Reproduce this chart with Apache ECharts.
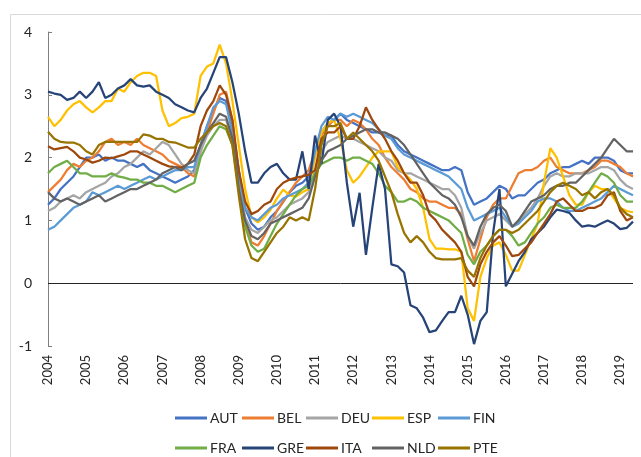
<!DOCTYPE html>
<html>
<head>
<meta charset="utf-8">
<script src="https://cdn.jsdelivr.net/npm/echarts@6/dist/echarts.min.js"></script>
<style>
  html, body { margin: 0; padding: 0; background: #fff; }
  #chart { width: 641px; height: 457px; }
</style>
</head>
<body>
<div id="chart"></div>
<script>
// tick labels (one per January), data is every second month
const years = ['2004', '2005', '2006', '2007', '2008', '2009', '2010', '2011',
  '2012', '2013', '2014', '2015', '2016', '2017', '2018', '2019']
const months = ['01', '03', '05', '07', '09', '11']

const AUT = [1.25, 1.35, 1.5, 1.6, 1.7, 1.85, 2.0, 2.0, 2.05, 1.95, 2.0, 1.95,
  1.95, 1.9, 1.85, 1.9, 1.8, 1.75, 1.7, 1.65, 1.6, 1.65, 1.7, 1.8,
  2.2, 2.5, 2.75, 2.95, 2.9, 2.5, 1.8, 1.2, 0.95, 0.85, 0.9, 1.05,
  1.15, 1.3, 1.45, 1.55, 1.6, 1.7, 2.1, 2.4, 2.55, 2.6, 2.7, 2.6,
  2.55, 2.5, 2.45, 2.4, 2.4, 2.35, 2.35, 2.2, 2.1, 2.05, 2.0, 1.95,
  1.9, 1.85, 1.8, 1.8, 1.85, 1.8, 1.45, 1.25, 1.3, 1.35, 1.45, 1.55,
  1.5, 1.35, 1.4, 1.4, 1.5, 1.6, 1.65, 1.75, 1.8, 1.85, 1.85, 1.9,
  1.95, 1.9, 2.0, 2.0, 2.0, 1.95, 1.8, 1.75, 1.75]
const BEL = [1.45, 1.55, 1.65, 1.8, 1.9, 1.85, 1.95, 2.0, 2.1, 2.25, 2.3, 2.2,
  2.25, 2.2, 2.3, 2.2, 2.15, 2.1, 2.05, 1.95, 1.9, 1.85, 1.75, 1.7,
  2.1, 2.4, 2.7, 3.0, 3.05, 2.6, 1.7, 1.0, 0.65, 0.6, 0.75, 0.95,
  1.15, 1.3, 1.45, 1.6, 1.7, 1.8, 2.1, 2.35, 2.5, 2.6, 2.6, 2.5,
  2.6, 2.55, 2.45, 2.3, 2.2, 2.0, 1.85, 1.75, 1.65, 1.5, 1.45, 1.35,
  1.3, 1.3, 1.25, 1.2, 1.2, 1.1, 0.7, 0.35, 0.7, 1.05, 1.25, 1.35,
  1.35, 1.55, 1.75, 1.8, 1.8, 1.85, 1.95, 2.0, 1.85, 1.8, 1.75, 1.75,
  1.75, 1.8, 1.85, 1.95, 1.95, 1.9, 1.85, 1.75, 1.7]
const DEU = [1.15, 1.2, 1.3, 1.35, 1.4, 1.35, 1.45, 1.5, 1.55, 1.6, 1.7, 1.75,
  1.85, 1.9, 2.0, 2.1, 2.05, 2.15, 2.25, 2.2, 2.05, 1.9, 1.8, 1.75,
  2.1, 2.35, 2.5, 2.6, 2.6, 2.3, 1.6, 1.05, 0.85, 0.8, 0.9, 1.0,
  1.05, 1.15, 1.25, 1.3, 1.35, 1.45, 1.8, 2.1, 2.25, 2.3, 2.35, 2.3,
  2.3, 2.25, 2.2, 2.15, 2.1, 2.0, 1.95, 1.8, 1.75, 1.75, 1.7, 1.65,
  1.6, 1.55, 1.5, 1.5, 1.4, 1.2, 0.75, 0.55, 0.8, 1.0, 1.05, 1.1,
  1.0, 0.9, 0.95, 1.1, 1.2, 1.35, 1.55, 1.7, 1.75, 1.7, 1.7, 1.75,
  1.75, 1.75, 1.8, 1.85, 1.85, 1.8, 1.65, 1.55, 1.5]
const ESP = [2.65, 2.5, 2.6, 2.75, 2.85, 2.9, 2.8, 2.72, 2.8, 2.9, 2.9, 3.1,
  3.05, 3.2, 3.3, 3.35, 3.35, 3.3, 2.75, 2.5, 2.55, 2.63, 2.65, 2.7,
  3.3, 3.45, 3.5, 3.8, 3.5, 2.9, 2.2, 1.5, 1.05, 0.97, 1.05, 1.17,
  1.35, 1.49, 1.4, 1.38, 1.45, 1.5, 2.0, 2.4, 2.55, 2.6, 2.3, 1.8,
  1.6, 1.7, 1.85, 2.0, 2.1, 2.1, 2.1, 1.85, 1.75, 1.65, 1.5, 1.2,
  0.7, 0.55, 0.55, 0.54, 0.54, 0.5, -0.4, -0.6, 0.1, 0.4, 0.6, 0.65,
  0.45, 0.2, 0.2, 0.45, 0.7, 0.95, 1.6, 2.15, 2.0, 1.7, 1.4, 1.25,
  1.25, 1.45, 1.55, 1.5, 1.5, 1.35, 1.2, 1.15, 1.13]
const FIN = [0.85, 0.9, 1.0, 1.1, 1.2, 1.25, 1.3, 1.45, 1.4, 1.45, 1.5, 1.55,
  1.5, 1.55, 1.6, 1.65, 1.7, 1.65, 1.7, 1.75, 1.8, 1.8, 1.85, 1.85,
  2.2, 2.5, 2.8, 2.9, 2.85, 2.4, 1.7, 1.2, 1.05, 1.0, 1.1, 1.2,
  1.25, 1.35, 1.4, 1.45, 1.5, 1.6, 2.1, 2.5, 2.65, 2.6, 2.7, 2.65,
  2.7, 2.65, 2.6, 2.55, 2.45, 2.35, 2.3, 2.15, 2.05, 2.0, 1.95, 1.9,
  1.85, 1.8, 1.75, 1.7, 1.6, 1.5, 1.2, 1.0, 1.05, 1.1, 1.15, 1.2,
  1.05, 0.9, 0.95, 1.05, 1.15, 1.3, 1.35, 1.35, 1.3, 1.2, 1.15, 1.15,
  1.2, 1.25, 1.3, 1.35, 1.45, 1.55, 1.5, 1.45, 1.4]
const FRA = [1.75, 1.85, 1.9, 1.95, 1.85, 1.75, 1.75, 1.7, 1.7, 1.7, 1.75, 1.7,
  1.68, 1.65, 1.65, 1.6, 1.6, 1.55, 1.55, 1.5, 1.45, 1.5, 1.55, 1.6,
  2.0, 2.2, 2.35, 2.5, 2.45, 2.2, 1.5, 0.9, 0.6, 0.5, 0.55, 0.75,
  0.95, 1.1, 1.25, 1.4, 1.5, 1.55, 1.75, 1.9, 1.95, 2.0, 2.0, 1.95,
  2.0, 2.0, 1.95, 1.9, 1.75, 1.55, 1.45, 1.3, 1.3, 1.35, 1.3, 1.2,
  1.15, 1.1, 1.05, 1.0, 0.9, 0.8, 0.45, 0.3, 0.5, 0.6, 0.75, 0.85,
  0.85, 0.75, 0.6, 0.65, 0.8, 0.95, 1.05, 1.2, 1.25, 1.2, 1.2, 1.2,
  1.3, 1.45, 1.6, 1.75, 1.7, 1.6, 1.4, 1.3, 1.3]
const GRE = [3.05, 3.02, 3.0, 2.92, 2.95, 3.05, 2.95, 3.05, 3.2, 2.95, 3.0, 3.1,
  3.15, 3.25, 3.15, 3.13, 3.15, 3.05, 3.0, 2.95, 2.85, 2.8, 2.75, 2.72,
  2.95, 3.1, 3.35, 3.6, 3.6, 3.2, 2.7, 2.1, 1.6, 1.6, 1.75, 1.85,
  1.9, 1.75, 1.65, 1.65, 2.1, 1.5, 2.35, 1.9, 2.6, 2.7, 2.5, 1.6,
  0.9, 1.44, 0.45, 1.2, 1.9, 1.5, 0.3, 0.27, 0.17, -0.35, -0.4, -0.55,
  -0.78, -0.75, -0.6, -0.46, -0.46, -0.2, -0.5, -0.97, -0.6, -0.46, 0.8, 1.5,
  -0.05, 0.15, 0.35, 0.5, 0.7, 0.8, 0.9, 1.05, 1.17, 1.15, 1.12, 1.0,
  0.9, 0.92, 0.9, 0.95, 1.0, 0.95, 0.86, 0.88, 0.98]
const ITA = [2.18, 2.13, 2.15, 2.17, 2.1, 2.0, 1.97, 1.92, 1.95, 2.0, 1.99, 2.02,
  2.05, 2.1, 2.1, 2.05, 2.0, 1.95, 1.9, 1.86, 1.85, 1.84, 1.9, 2.05,
  2.5, 2.75, 2.9, 3.15, 3.0, 2.6, 1.8, 1.3, 1.1, 1.15, 1.25, 1.3,
  1.5, 1.6, 1.65, 1.68, 1.7, 1.73, 1.8, 2.3, 2.4, 2.4, 2.5, 2.3,
  2.3, 2.5, 2.8, 2.6, 2.45, 2.3, 2.1, 1.95, 1.75, 1.6, 1.6, 1.4,
  1.1, 1.0, 0.85, 0.75, 0.65, 0.5, 0.1, -0.05, 0.3, 0.5, 0.65, 0.75,
  0.6, 0.43, 0.45, 0.55, 0.65, 0.8, 0.95, 1.1, 1.3, 1.35, 1.25, 1.15,
  1.15, 1.2, 1.2, 1.25, 1.4, 1.45, 1.15, 1.0, 1.05]
const NLD = [1.45, 1.35, 1.3, 1.35, 1.3, 1.25, 1.3, 1.35, 1.4, 1.3, 1.35, 1.4,
  1.45, 1.5, 1.5, 1.55, 1.6, 1.65, 1.75, 1.8, 1.85, 1.8, 1.9, 1.95,
  2.2, 2.4, 2.55, 2.7, 2.65, 2.3, 1.5, 1.0, 0.75, 0.7, 0.8, 0.95,
  1.0, 1.05, 1.1, 1.15, 1.2, 1.35, 1.7, 1.95, 2.1, 2.15, 2.2, 2.3,
  2.35, 2.4, 2.45, 2.45, 2.4, 2.4, 2.35, 2.3, 2.2, 2.05, 1.9, 1.75,
  1.6, 1.5, 1.4, 1.35, 1.25, 1.05, 0.75, 0.6, 0.9, 1.1, 1.2, 1.25,
  1.15, 0.9, 1.0, 1.15, 1.3, 1.35, 1.4, 1.5, 1.55, 1.55, 1.6, 1.6,
  1.7, 1.8, 1.9, 2.0, 2.15, 2.3, 2.2, 2.1, 2.1]
const PTE = [2.41, 2.3, 2.25, 2.24, 2.24, 2.2, 2.1, 2.05, 2.2, 2.25, 2.25, 2.25,
  2.25, 2.25, 2.25, 2.37, 2.35, 2.3, 2.3, 2.25, 2.24, 2.2, 2.16, 2.16,
  2.3, 2.4, 2.5, 2.55, 2.5, 2.2, 1.4, 0.7, 0.4, 0.35, 0.5, 0.65,
  0.8, 0.9, 1.05, 1.0, 1.05, 1.0, 1.5, 2.2, 2.5, 2.5, 2.55, 2.3,
  2.4, 2.3, 2.2, 2.1, 1.95, 1.7, 1.45, 1.1, 0.8, 0.65, 0.75, 0.65,
  0.5, 0.4, 0.38, 0.38, 0.38, 0.4, 0.2, 0.1, 0.4, 0.6, 0.75, 0.85,
  0.85, 0.8, 0.85, 0.95, 1.05, 1.15, 1.3, 1.45, 1.55, 1.6, 1.55, 1.5,
  1.4, 1.45, 1.35, 1.45, 1.5, 1.4, 1.2, 1.1, 1.05]

const names = ['AUT', 'BEL', 'DEU', 'ESP', 'FIN', 'FRA', 'GRE', 'ITA', 'NLD', 'PTE']
const values = [AUT, BEL, DEU, ESP, FIN, FRA, GRE, ITA, NLD, PTE]
const colors = ['#4472C4', '#ED7D31', '#A5A5A5', '#FFC000', '#5B9BD5',
  '#70AD47', '#264478', '#9E480E', '#636363', '#997300']

// categories: every second month, Jan 2004 .. May 2019
const categories = []
years.forEach(y => months.forEach(m => categories.push(y + '-' + m)))
categories.length = AUT.length

// legend positions (two rows of five)
const legendLeft = [170, 237, 301, 367, 433]
const legendTop = [406, 436]

const chart = echarts.init(document.getElementById('chart'))
const option = {
  animation: false,
  color: colors,
  textStyle: { fontFamily: 'Lato' },
  graphic: [{
    type: 'rect',
    shape: { x: 10.5, y: 14.5, width: 640, height: 450 },
    style: { fill: 'none', stroke: '#d9d9d9', lineWidth: 1 },
    silent: true
  }],
  grid: { left: 48, right: 8, top: 32, bottom: 111 },
  legend: names.map((n, i) => ({
    data: [n],
    left: legendLeft[i % 5],
    top: legendTop[Math.floor(i / 5)],
    icon: 'rect',
    itemWidth: 32,
    itemHeight: 3,
    itemGap: 4,
    selectedMode: false,
    textStyle: { fontFamily: 'Lato', fontSize: 14, color: '#262626', padding: [0, 0, 0, -2] }
  })),
  xAxis: {
    type: 'category',
    data: categories,
    boundaryGap: false,
    axisLine: { show: false, onZero: false },
    axisTick: { show: false },
    axisLabel: {
      rotate: 90,
      margin: 9,
      fontSize: 13,
      color: '#262626',
      interval: (idx) => idx % 6 === 0,
      formatter: (v) => v.slice(0, 4)
    }
  },
  yAxis: {
    type: 'value',
    min: -1,
    max: 4,
    interval: 1,
    splitLine: { show: false },
    axisLine: { show: true, lineStyle: { color: '#7f7f7f', width: 1 } },
    axisTick: { show: true, inside: true, length: 4, lineStyle: { color: '#7f7f7f' } },
    axisLabel: { fontSize: 14, color: '#262626', margin: 16 }
  },
  series: names.map((n, i) => ({
    name: n,
    type: 'line',
    data: values[i],
    symbol: 'none',
    lineStyle: { width: 2.25 },
    z: 2 + i,
    markLine: i === 0 ? {
      silent: true,
      symbol: 'none',
      label: { show: false },
      lineStyle: { color: '#262626', width: 1, type: 'solid' },
      data: [{ yAxis: 0 }]
    } : undefined
  }))
}
chart.setOption(option)
</script>
</body>
</html>
